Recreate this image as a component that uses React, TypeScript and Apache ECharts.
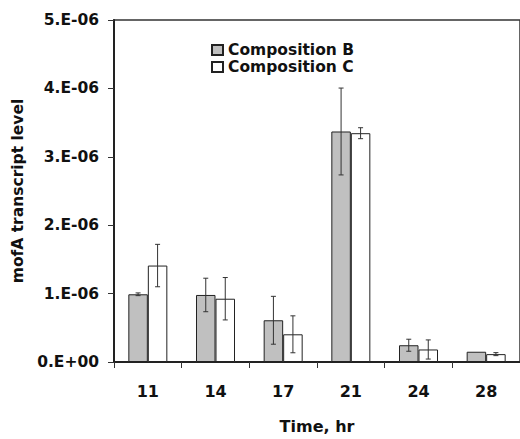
import React, { useEffect, useRef } from "react";
import * as echarts from "echarts";

const categories = ["11", "14", "17", "21", "24", "28"];
const compB = [0.99e-6, 0.98e-6, 0.61e-6, 3.37e-6, 0.245e-6, 0.15e-6];
const compC = [1.41e-6, 0.925e-6, 0.405e-6, 3.345e-6, 0.183e-6, 0.115e-6];
const errB = [0.02e-6, 0.245e-6, 0.35e-6, 0.635e-6, 0.088e-6, 0];
const errC = [0.31e-6, 0.31e-6, 0.27e-6, 0.08e-6, 0.14e-6, 0.022e-6];

const FONT = "'DejaVu Sans', 'Liberation Sans', Arial, sans-serif";
const BAR_W = 19.5;

export default function App() {
  const ref = useRef<HTMLDivElement>(null);
  useEffect(() => {
    if (!ref.current) return;
    const chart = echarts.init(ref.current, null, { renderer: "svg" });

    const errData: number[][] = [];
    categories.forEach((_, i) => {
      errData.push([i, compB[i], errB[i], -1]);
      errData.push([i, compC[i], errC[i], 1]);
    });

    chart.setOption({
      animation: false,
      backgroundColor: "#fff",
      grid: {
        left: 114,
        top: 20,
        width: 408,
        height: 346,
        show: true,
        borderColor: "#333",
        borderWidth: 1.5,
        backgroundColor: "transparent",
      },
      legend: {
        data: ["Composition B", "Composition C"],
        orient: "vertical",
        left: 206,
        top: 37,
        itemWidth: 11,
        itemHeight: 10,
        itemGap: 1,
        itemTextGap: 6,
        icon: "rect",
        textStyle: {
          fontFamily: FONT,
          fontWeight: "bold",
          fontSize: 15.5,
          color: "#111",
          lineHeight: 16,
        },
      },
      xAxis: {
        type: "category",
        data: categories,
        axisLine: { lineStyle: { color: "#222", width: 2 } },
        axisTick: { show: true, length: 6, alignWithLabel: false, lineStyle: { color: "#333", width: 1 } },
        axisLabel: {
          margin: 21,
          fontFamily: FONT,
          fontWeight: "bold",
          fontSize: 16,
          color: "#111",
        },
        name: "Time, hr",
        nameLocation: "middle",
        nameGap: 56,
        nameTextStyle: { fontFamily: FONT, fontWeight: "bold", fontSize: 16, color: "#111" },
      },
      yAxis: {
        type: "value",
        min: 0,
        max: 5e-6,
        interval: 1e-6,
        splitLine: { show: false },
        axisLine: { show: true, lineStyle: { color: "#222", width: 2 } },
        axisTick: { show: true, length: 6, lineStyle: { color: "#333", width: 1 } },
        axisLabel: {
          margin: 15,
          fontFamily: FONT,
          fontWeight: "bold",
          fontSize: 15.5,
          color: "#111",
          formatter: (v: number) => (v === 0 ? "0.E+00" : `${Math.round(v * 1e6)}.E-06`),
        },
        name: "mofA transcript level",
        nameLocation: "middle",
        nameGap: 84,
        nameTextStyle: { fontFamily: FONT, fontWeight: "bold", fontSize: 15.5, color: "#111" },
      },
      series: [
        {
          name: "Composition B",
          type: "bar",
          data: compB,
          barWidth: BAR_W,
          barGap: "0%",
          itemStyle: { color: "#c0c0c0", borderColor: "#222", borderWidth: 1 },
        },
        {
          name: "Composition C",
          type: "bar",
          data: compC,
          barWidth: BAR_W,
          barGap: "0%",
          itemStyle: { color: "#ffffff", borderColor: "#222", borderWidth: 1 },
        },
        {
          name: "err",
          type: "custom",
          data: errData,
          z: 10,
          renderItem: (params: any, api: any) => {
            const idx = api.value(0);
            const val = api.value(1);
            const err = api.value(2);
            const side = api.value(3);
            if (!err) return null;
            const top = api.coord([idx, val + err]);
            const bot = api.coord([idx, val - err]);
            const x = top[0] + side * (BAR_W / 2);
            const cap = 2.5;
            const style = { stroke: "#333", lineWidth: 1 };
            return {
              type: "group",
              children: [
                { type: "line", shape: { x1: x, y1: top[1], x2: x, y2: bot[1] }, style },
                { type: "line", shape: { x1: x - cap, y1: top[1], x2: x + cap, y2: top[1] }, style },
                { type: "line", shape: { x1: x - cap, y1: bot[1], x2: x + cap, y2: bot[1] }, style },
              ],
            };
          },
        },
      ],
    });
    return () => chart.dispose();
  }, []);
  return (
    <div
      ref={ref}
      style={{ position: "fixed", left: 0, top: 0, width: 520, height: 439 }}
    />
  );
}
